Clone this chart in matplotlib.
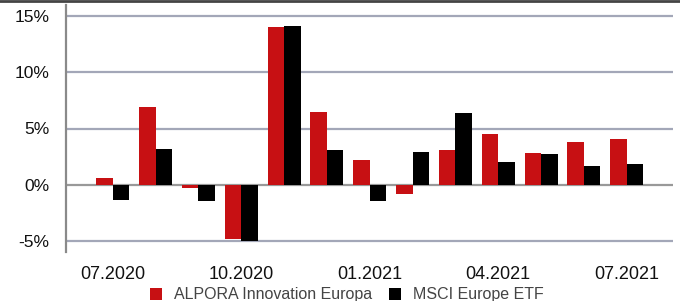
import matplotlib
matplotlib.use("Agg")
import matplotlib.pyplot as plt
import numpy as np
from matplotlib.lines import Line2D

months = ["07.2020", "08.2020", "09.2020", "10.2020", "11.2020", "12.2020", "01.2021",
          "02.2021", "03.2021", "04.2021", "05.2021", "06.2021", "07.2021"]
alpora = [0.6, 6.9, -0.3, -4.8, 14.0, 6.5, 2.2, -0.8, 3.1, 4.5, 2.8, 3.8, 4.1]
msci = [-1.35, 3.2, -1.45, -5.05, 14.1, 3.1, -1.5, 2.9, 6.4, 2.0, 2.75, 1.7, 1.85]
series_names = ["ALPORA Innovation Europa", "MSCI Europe ETF"]
tick_labels = ["07.2020", "10.2020", "01.2021", "04.2021", "07.2021"]
y_ticks = [-5, 0, 5, 10, 15]

plt.rcParams['font.family'] = ['Liberation Sans', 'DejaVu Sans']

fig = plt.figure(figsize=(6.8, 3.01), dpi=100)
ax = fig.add_axes([66/680, 1-252/301, (673-66)/680, 247/301])

x = np.arange(len(months))
w = 0.385
red = '#c71013'
ax.bar(x - w/2, alpora, width=w, color=red, label=series_names[0], zorder=3)
ax.bar(x + w/2, msci, width=w, color='black', label=series_names[1], zorder=3)

ax.set_xlim(-1.09, 13.08)
ax.set_ylim(-6, 16)

for v in y_ticks:
    if v == 0:
        ax.axhline(0, color='#999999', lw=1.6, zorder=2)
    else:
        ax.axhline(v, color='#a3a7b8', lw=1.6, zorder=1)

ax.set_yticks(y_ticks)
ax.set_yticklabels([f"{v}%" for v in y_ticks])
ax.set_xticks([months.index(t) for t in tick_labels])
ax.set_xticklabels(tick_labels)
ax.tick_params(axis='y', length=0, pad=12, labelsize=12.5, labelcolor='#111111')
ax.tick_params(axis='x', length=0, pad=10, labelsize=13, labelcolor='#111111')

for s in ['top', 'right', 'bottom']:
    ax.spines[s].set_visible(False)
ax.spines['left'].set_color('#8a8a8a')
ax.spines['left'].set_linewidth(1.6)

fig.add_artist(Line2D([0, 1], [0.998, 0.998], transform=fig.transFigure, color='#444444', lw=2))

fig.legend(loc='center', bbox_to_anchor=(0.51, 0.02), ncol=2, frameon=False,
           fontsize=11.5, labelcolor='#444444', handlelength=0.75, handleheight=0.75,
           handletextpad=0.75, columnspacing=1.1, borderpad=0, borderaxespad=0)

fig.savefig("out.png", dpi=100)
